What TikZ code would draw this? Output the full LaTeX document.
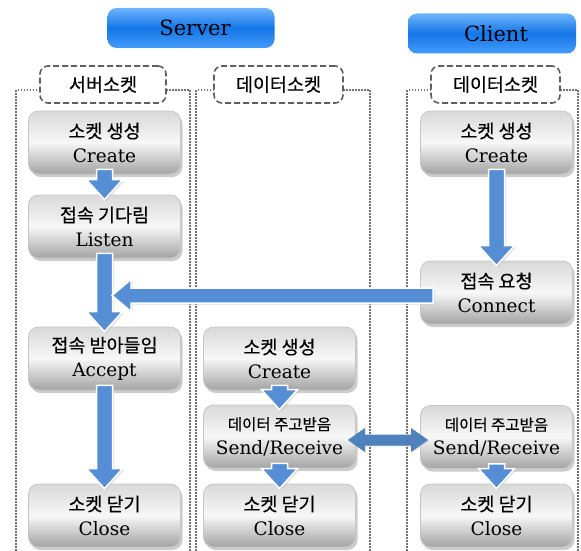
\documentclass[tikz,border=0pt]{standalone}
\usepackage{fontspec}
\setmainfont{DejaVu Serif}
\newfontfamily\kr[FakeBold=0.3]{Noto Sans CJK KR}
\usetikzlibrary{shadows,calc}
\definecolor{arrowblue}{RGB}{85,142,213}
\definecolor{darkarrow}{RGB}{79,129,189}
\definecolor{titletop}{RGB}{110,180,252}
\definecolor{titlemid}{RGB}{20,118,232}
\definecolor{titlebot}{RGB}{70,155,250}
\definecolor{lanegray}{RGB}{115,115,115}
\definecolor{dashgray}{RGB}{95,95,95}
\tikzset{
  gbox/.style={rectangle, rounded corners=10pt, minimum width=152pt, minimum height=63pt,
    inner sep=0pt, align=center, draw=gray!45, line width=0.8pt,
    top color=gray!30, bottom color=gray!72, middle color=gray!6,
    drop shadow={shadow xshift=2pt, shadow yshift=-3pt, fill=black!40},
    font=\fontsize{18.5}{24}\selectfont},
  titlebox/.style={rectangle, rounded corners=9pt, minimum width=167pt, minimum height=40pt,
    inner sep=0pt, top color=titletop, bottom color=titlebot, middle color=titlemid,
    font=\fontsize{21}{24}\selectfont},
  lblbox/.style={rectangle, rounded corners=8pt, minimum height=37pt, inner sep=0pt,
    draw=dashgray, line width=1.6pt, dash pattern=on 6pt off 3pt, fill=white,
    font=\kr\fontsize{18.5}{22}\selectfont},
  lane/.style={draw=lanegray, line width=1.6pt, dash pattern=on 1.5pt off 1.5pt},
  blk/.style={fill=arrowblue, draw=white, line width=1.5pt, line join=miter,
    drop shadow={shadow xshift=1.5pt, shadow yshift=-1.5pt, fill=black!25}},
  dblk/.style={fill=darkarrow, draw=none,
    drop shadow={shadow xshift=1pt, shadow yshift=-1pt, fill=black!20}},
}
\newcommand{\kor}[1]{{\kr\fontsize{18.5}{24}\selectfont #1}}
\newcommand{\vblk}[2]{%
  \path[blk] let \p1=(#1), \p2=(#2) in
    (\x1-8pt,\y1+5pt) -- (\x1+8pt,\y1+5pt) -- (\x1+8pt,\y2+15pt) -- (\x1+18pt,\y2+15pt)
    -- (\x1,\y2-5pt) -- (\x1-18pt,\y2+15pt) -- (\x1-8pt,\y2+15pt) -- cycle;}
\newcommand{\hblkL}[2]{%
  \path[blk] let \p1=(#1), \p2=(#2) in
    (\x1+13pt,\y2+7.5pt) -- (\x1+13pt,\y2-7.5pt) -- (\x2+19pt,\y2-7.5pt) -- (\x2+19pt,\y2-16pt)
    -- (\x2,\y2) -- (\x2+19pt,\y2+16pt) -- (\x2+19pt,\y2+7.5pt) -- cycle;}
\begin{document}
\begin{tikzpicture}[x=1pt,y=-1pt]
\useasboundingbox (0,0) rectangle (581,551);
% swim lanes
\draw[lane] (40,90) -- (16,90) -- (16,551);
\draw[lane] (166,90) -- (190,90) -- (190,551);
\draw[lane] (214,90) -- (196,90) -- (196,551);
\draw[lane] (343,90) -- (370,90) -- (370,551);
\draw[lane] (431,90) -- (407,90) -- (407,551);
\draw[lane] (560,90) -- (578,90) -- (578,551);
% titles
\node[titlebox] (server) at (191,28) {\hspace*{8pt}Server};
\node[titlebox, minimum width=168pt] (client) at (492,33.5) {\hspace*{8pt}Client};
% lane labels
\node[lblbox, minimum width=126pt] (lbl1) at (103,84.5) {서버소켓};
\node[lblbox, minimum width=129pt] (lbl2) at (278.5,84.5) {데이터소켓};
\node[lblbox, minimum width=129pt] (lbl3) at (495.5,84.5) {데이터소켓};
% server boxes
\node[gbox] (sCreate) at (104.5,142.5) {\kor{소켓 생성}\\Create};
\node[gbox] (sListen) at (104.5,226.5) {\kor{접속 기다림}\\Listen};
\node[gbox] (sAccept) at (104.5,358.5) {\kor{접속 받아들임}\\Accept};
\node[gbox] (sClose) at (104.5,515.5) {\kor{소켓 닫기}\\Close};
% data socket boxes
\node[gbox] (dCreate) at (279.5,358.5) {\kor{소켓 생성}\\Create};
\node[gbox] (dSR) at (279.5,436.5) {{\kr\fontsize{15.5}{20}\selectfont 데이터 주고받음}\\Send/Receive};
\node[gbox] (dClose) at (279.5,515.5) {\kor{소켓 닫기}\\Close};
% client boxes
\node[gbox] (cCreate) at (496.5,142.5) {\kor{소켓 생성}\\Create};
\node[gbox] (cConnect) at (496.5,292.5) {\kor{접속 요청}\\Connect};
\node[gbox] (cSR) at (496.5,437) {{\kr\fontsize{15.5}{20}\selectfont 데이터 주고받음}\\Send/Receive};
\node[gbox] (cClose) at (496.5,515.5) {\kor{소켓 닫기}\\Close};
% arrows
\vblk{sCreate.south}{sListen.north}
\vblk{sListen.south}{sAccept.north}
\vblk{sAccept.south}{sClose.north}
\vblk{cCreate.south}{cConnect.north}
\vblk{dCreate.south}{dSR.north}
\vblk{dSR.south}{dClose.north}
\vblk{cSR.south}{cClose.north}
\coordinate (acceptIn) at (112,295.5);
\hblkL{cConnect.west}{acceptIn}
\path[dblk] let \p1=(dSR.east), \p2=(cSR.west) in
  (\x1-8pt,\y1-3.5pt) -- (\x1+9pt,\y1-3.5pt+12pt) -- (\x1+9pt,\y1-3.5pt+5.5pt)
  -- (\x2-9pt,\y1-3.5pt+5.5pt) -- (\x2-9pt,\y1-3.5pt+12pt) -- (\x2+8pt,\y1-3.5pt)
  -- (\x2-9pt,\y1-3.5pt-12pt) -- (\x2-9pt,\y1-3.5pt-5.5pt) -- (\x1+9pt,\y1-3.5pt-5.5pt)
  -- (\x1+9pt,\y1-3.5pt-12pt) -- cycle;
\end{tikzpicture}
\end{document}
